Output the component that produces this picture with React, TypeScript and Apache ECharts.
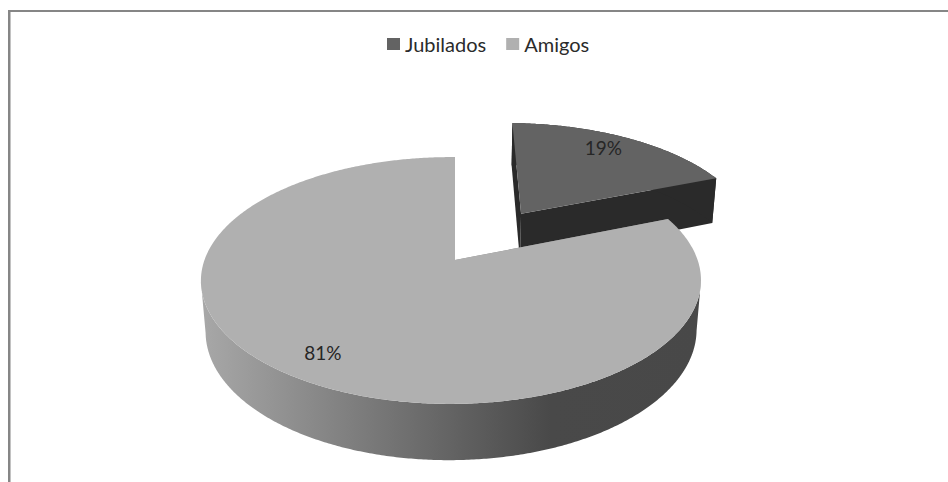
import React, { useEffect, useRef } from "react";
import * as echarts from "echarts";

const categories = ["Jubilados", "Amigos"];
const values = [19, 81];
const topColors = ["#636363", "#b0b0b0"];
const cutColors = ["#2a2a2a", "#8a8a8a"];
const labelColor = "#262626";
const FONT = "Lato";

// Projection of the tilted disc
const CX = 455, CY = 260, R = 246.5, H = 120, V = 50.5, P = 0.166, Q = 0.016, S = 0.018;
const EXPLODE = [0.5, 0];
const SHIFT_X = [1.5, 0];
const LABEL_RADIUS = 0.82;
const LABEL_NUDGE = [[-6.5, -3], [-3, 0]];

const project = (x: number, y: number, z: number): number[] => {
  const w = 1 + P * y + Q * x - S * z;
  return [CX + (R * x) / w, CY - (H * y + V * z) / w];
};

const total = values.reduce((a, b) => a + b, 0);

function renderSlice(index: number) {
  return (_params: any, api: any) => {
    const value = api.value(0);
    let before = 0;
    for (let i = 0; i < index; i++) before += values[i];
    const a0 = (before / total) * Math.PI * 2;
    const a1 = a0 + (value / total) * Math.PI * 2;
    const mid = (a0 + a1) / 2;
    const ex = EXPLODE[index] * Math.sin(mid);
    const ey = EXPLODE[index] * Math.cos(mid);
    const at = (a: number, r: number, z: number) => {
      const p = project(ex + r * Math.sin(a), ey + r * Math.cos(a), z);
      return [p[0] + SHIFT_X[index], p[1]];
    };

    const steps = Math.ceil((a1 - a0) / (Math.PI / 360));
    const angles: number[] = [];
    for (let i = 0; i <= steps; i++) angles.push(a0 + ((a1 - a0) * i) / steps);

    const children: any[] = [];
    const poly = (points: number[][], fill: any) =>
      children.push({
        type: "polygon",
        shape: { points },
        style: { fill, stroke: null },
        silent: true,
      });

    poly([at(a0, 0, 0), at(a0, 1, 0), at(a0, 1, -1), at(a0, 0, -1)], cutColors[index]);
    poly([at(a1, 0, 0), at(a1, 1, 0), at(a1, 1, -1), at(a1, 0, -1)], cutColors[index]);

    if (index === 0) {
      poly(
        [...angles.map((a) => at(a, 1, 0)), ...angles.slice().reverse().map((a) => at(a, 1, -1))],
        cutColors[index]
      );
    } else {
      const front = angles.filter((a) => Math.cos(a) <= -P);
      poly(
        [...front.map((a) => at(a, 1, 0)), ...front.slice().reverse().map((a) => at(a, 1, -1))],
        {
          type: "linear",
          x: 0,
          y: 0,
          x2: 1,
          y2: 0,
          colorStops: [
            { offset: 0, color: "#a8a8a8" },
            { offset: 0.32, color: "#7c7c7c" },
            { offset: 0.51, color: "#626262" },
            { offset: 0.7, color: "#494949" },
            { offset: 1, color: "#484848" },
          ],
        }
      );
    }

    poly([at(a0, 0, 0), ...angles.map((a) => at(a, 1, 0))], topColors[index]);

    const lp = at(mid, LABEL_RADIUS, 0);
    children.push({
      type: "text",
      x: lp[0] + LABEL_NUDGE[index][0],
      y: lp[1] + LABEL_NUDGE[index][1],
      silent: true,
      style: {
        text: `${Math.round((value / total) * 100)}%`,
        fill: labelColor,
        font: `19px ${FONT}`,
        align: "center",
        verticalAlign: "middle",
      },
    });
    return { type: "group", children };
  };
}

export default function App() {
  const ref = useRef<HTMLDivElement>(null);
  useEffect(() => {
    const chart = echarts.init(ref.current!, null, { renderer: "svg" });
    chart.setOption({
      animation: false,
      backgroundColor: "#ffffff",
      legend: {
        data: categories,
        left: 382,
        top: 29,
        icon: "rect",
        itemWidth: 13,
        itemHeight: 12,
        itemGap: 20,
        selectedMode: false,
        textStyle: { fontFamily: FONT, fontSize: 20, color: "#2b2b2b", padding: [0, 0, 0, 0] },
      },
      graphic: [
        { type: "rect", shape: { x: 8, y: 10, width: 940, height: 2 }, style: { fill: "#868686" }, silent: true },
        { type: "rect", shape: { x: 8, y: 10, width: 2.5, height: 472 }, style: { fill: "#868686" }, silent: true },
      ],
      series: categories.map((name, i) => ({
        type: "custom",
        name,
        coordinateSystem: "none",
        silent: true,
        itemStyle: { color: topColors[i] },
        renderItem: renderSlice(i),
        data: [[values[i]]],
      })),
    });
    return () => chart.dispose();
  }, []);
  return <div ref={ref} style={{ position: "fixed", left: 0, top: 0, width: 948, height: 482 }} />;
}
